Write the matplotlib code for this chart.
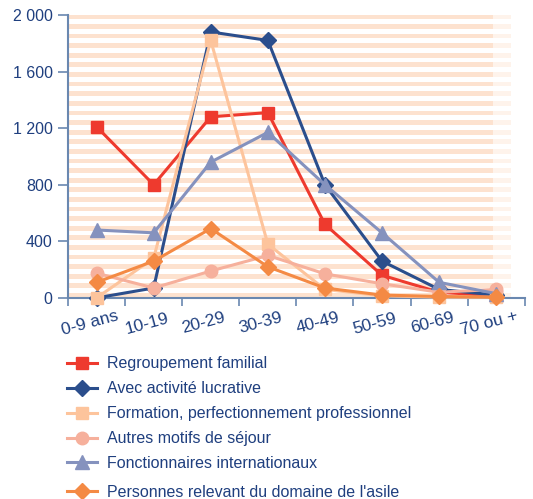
import numpy as np
import matplotlib
matplotlib.use("Agg")
import matplotlib.pyplot as plt
import matplotlib.transforms as mtransforms

plt.rcParams["font.family"] = ["Liberation Sans", "DejaVu Sans"]

categories = ["0-9 ans", "10-19", "20-29", "30-39", "40-49", "50-59", "60-69", "70 ou +"]
regroupement = [1210, 800, 1280, 1310, 520, 160, 40, 15]
lucrative = [0, 70, 1880, 1820, 800, 260, 60, 20]
formation = [0, 280, 1820, 380, 60, 15, 5, 5]
autres = [175, 70, 190, 300, 170, 100, 40, 60]
fonctionnaires = [480, 460, 960, 1170, 800, 460, 110, 30]
asile = [110, 260, 490, 220, 70, 20, 10, 5]
yticks = [0, 400, 800, 1200, 1600, 2000]
ytick_labels = ["0", "400", "800", "1 200", "1 600", "2 000"]

series = [
    ("Regroupement familial", regroupement, "#EE3A2E", "s", 9),
    ("Avec activité lucrative", lucrative, "#2B4E8C", "D", 8),
    ("Formation, perfectionnement professionnel", formation, "#FDC49C", "s", 9),
    ("Autres motifs de séjour", autres, "#F6B09C", "o", 9),
    ("Fonctionnaires internationaux", fonctionnaires, "#8592BE", "^", 10),
    ("Personnes relevant du domaine de l'asile", asile, "#F48A44", "D", 8),
]

navy = "#1F3F7F"
axcol = "#6A88B0"

fig = plt.figure(figsize=(5.33, 4.99), dpi=100)
ax = fig.add_axes([0.1276, 0.403, 0.857, 0.567])

# decorative background stripes
for yy in np.linspace(0.0, 0.985, 30):
    ax.axhspan(yy * 2000, yy * 2000 + 34, xmin=0.0, xmax=0.93,
               color="#FDD9C0", alpha=0.75, lw=0, zorder=0)
    ax.axhspan(yy * 2000, yy * 2000 + 34, xmin=0.93, xmax=0.97,
               color="#FDD9C0", alpha=0.3, lw=0, zorder=0)

x = np.arange(len(categories))
handles = []
for name, vals, col, mk, ms in series:
    h, = ax.plot(x, vals, color=col, marker=mk, markersize=ms, lw=2.2, label=name,
                 zorder=3, clip_on=False)
    handles.append(h)

ax.set_xlim(-0.5, len(categories) - 0.5)
ax.set_ylim(0, 2000)
ax.set_yticks(yticks)
ax.set_yticklabels(ytick_labels)
ax.set_xticks(x)
ax.set_xticklabels([])
offset = mtransforms.ScaledTranslation(-7 / 100, -25.5 / 100, fig.dpi_scale_trans)
trans = ax.get_xaxis_transform() + offset
for i, c in enumerate(categories):
    ax.text(x[i], 0, c, transform=trans, rotation=15, ha="center", va="center",
            fontsize=12.5, color=navy)
ax.set_xticks(np.arange(len(categories) + 1) - 0.5, minor=True)
ax.tick_params(axis="x", which="major", length=0)
ax.tick_params(axis="x", which="minor", length=5.5, color=axcol, width=1.2, direction="out")
ax.tick_params(axis="y", length=7.5, color=axcol, width=1.2, labelsize=11.5, labelcolor=navy, pad=3.5)
for s in ["top", "right"]:
    ax.spines[s].set_visible(False)
for s in ["left", "bottom"]:
    ax.spines[s].set_color(axcol)
    ax.spines[s].set_linewidth(1.5)

labels = [s[0] for s in series]
fig.legend(handles[:5], labels[:5], loc="upper left", bbox_to_anchor=(0.1144, 0.2986),
           frameon=False, fontsize=11.5, labelcolor=navy, handlelength=1.85,
           labelspacing=0.62, borderaxespad=0, handletextpad=0.62)
fig.legend(handles[5:], labels[5:], loc="upper left", bbox_to_anchor=(0.1144, 0.041),
           frameon=False, fontsize=11.5, labelcolor=navy, handlelength=1.85,
           borderaxespad=0, handletextpad=0.62)

fig.savefig("out.png", dpi=100)
